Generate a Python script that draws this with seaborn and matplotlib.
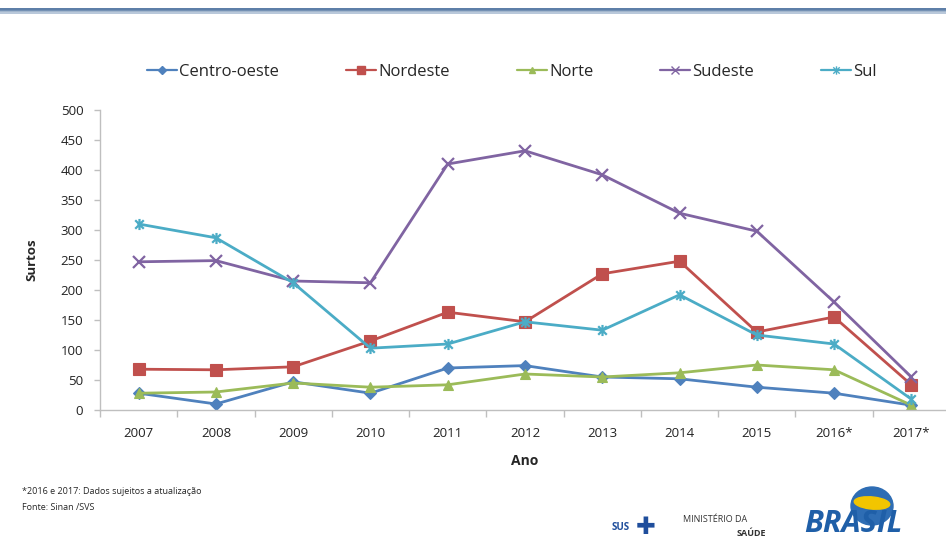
import numpy as np
import pandas as pd
import matplotlib
matplotlib.use("Agg")
import matplotlib.pyplot as plt
from matplotlib.path import Path
import seaborn as sns

anos = ["2007", "2008", "2009", "2010", "2011", "2012", "2013", "2014", "2015", "2016*", "2017*"]
regioes = ["Centro-oeste", "Nordeste", "Norte", "Sudeste", "Sul"]

centro_oeste = [28, 10, 47, 28, 70, 74, 55, 52, 38, 28, 8]
nordeste = [68, 67, 72, 115, 163, 147, 227, 248, 130, 155, 42]
norte = [28, 30, 45, 38, 42, 60, 55, 62, 75, 67, 8]
sudeste = [247, 249, 215, 212, 410, 432, 392, 328, 298, 180, 55]
sul = [310, 287, 212, 103, 110, 147, 133, 192, 125, 110, 18]

cores = {"Centro-oeste": "#4F81BD", "Nordeste": "#C0504D", "Norte": "#9BBB59",
         "Sudeste": "#8064A2", "Sul": "#4BACC6"}

# Excel-style "star": an X crossed by a vertical bar
star = Path([(-1, -1), (1, 1), (-1, 1), (1, -1), (0, -1.3), (0, 1.3)],
            [Path.MOVETO, Path.LINETO, Path.MOVETO, Path.LINETO, Path.MOVETO, Path.LINETO])
marcadores = {"Centro-oeste": "D", "Nordeste": "s", "Norte": "^", "Sudeste": "x", "Sul": star}
tamanhos = {"Centro-oeste": 6, "Nordeste": 8, "Norte": 7, "Sudeste": 8, "Sul": 8}

series = [centro_oeste, nordeste, norte, sudeste, sul]
df = pd.DataFrame({
    "pos": np.tile(np.arange(len(anos)), len(regioes)),
    "Surtos": np.concatenate(series),
    "Regiao": np.repeat(regioes, len(anos)),
})

sns.set_theme(style="white")
plt.rcParams["font.family"] = ["Open Sans", "DejaVu Sans"]

fig = plt.figure(figsize=(9.46, 5.41), dpi=100)
W, H = 946, 541
ax = fig.add_axes([100 / W, 1 - 410 / H, 850 / W, 300 / H])

for reg in regioes:
    sub = df[df["Regiao"] == reg]
    sns.lineplot(data=sub, x="pos", y="Surtos", ax=ax, color=cores[reg], lw=2,
                 marker=marcadores[reg], markersize=tamanhos[reg],
                 markeredgecolor=cores[reg], markeredgewidth=1.6 if reg in ("Sudeste", "Sul") else 0.8,
                 label=reg, legend=False)

ax.set_xlim(-0.5, len(anos) - 0.5)
ax.set_ylim(0, 500)
ax.set_yticks(np.arange(0, 501, 50))
ax.set_xticks(np.arange(len(anos)))
ax.set_xticklabels(anos)
ax.set_xticks(np.arange(len(anos) + 1) - 0.5, minor=True)
ax.tick_params(axis="x", which="major", length=0, pad=12, labelsize=9.5, colors="#222222")
ax.tick_params(axis="x", which="minor", length=5, width=1, color="#BFBFBF", direction="out", bottom=True)
ax.tick_params(axis="y", length=4, width=1, color="#BFBFBF", direction="out", left=True,
               labelsize=9.5, colors="#222222", pad=8)
for s in ["top", "right"]:
    ax.spines[s].set_visible(False)
for s in ["left", "bottom"]:
    ax.spines[s].set_color("#BFBFBF")
    ax.spines[s].set_linewidth(1)
ax.set_xlabel("Ano", fontsize=10, fontweight="bold", labelpad=10)
ax.set_ylabel("")
fig.text(32 / W, 1 - 260 / H, "Surtos", rotation=90, fontsize=9.5, fontweight="bold",
         ha="center", va="center")

# legend row
handles = [plt.Line2D([], [], color=cores[r], lw=1.6, marker=marcadores[r],
                      markersize=tamanhos[r] - 2, markeredgecolor=cores[r]) for r in regioes]
fig.legend(handles, regioes, loc="center", bbox_to_anchor=(512 / W, 1 - 72 / H), ncol=5,
           frameon=False, fontsize=12, handlelength=1.8, handletextpad=0.15, columnspacing=4.0)

# header rule
grad = np.linspace(0, 1, 256).reshape(1, -1)
hdr = fig.add_axes([0, 1 - 14 / H, 1, 6 / H])
hdr.imshow(np.vstack([grad * 0 + 0.0, grad * 0 + 1.0]), aspect="auto",
           cmap=matplotlib.colors.LinearSegmentedColormap.from_list("h", ["#5E7FA8", "#B9C8DA"]))
hdr.axis("off")

# footnotes
fig.text(22 / W, 1 - 492 / H, "*2016 e 2017: Dados sujeitos a atualização", fontsize=6.5, va="center")
fig.text(22 / W, 1 - 507 / H, "Fonte: Sinan /SVS", fontsize=6.5, va="center")

# institutional marks
fig.text(612 / W, 1 - 528 / H, "SUS", fontsize=7, fontweight="bold", color="#1F4E9C", va="center")
fig.text(636 / W, 1 - 527 / H, "✚", fontsize=17, color="#1F4E9C", va="center",
         family=["DejaVu Sans"])
fig.text(683 / W, 1 - 520 / H, "MINISTÉRIO DA", fontsize=6.5, color="#333333", va="center")
fig.text(766 / W, 1 - 534 / H, "SAÚDE", fontsize=6.5, fontweight="bold", color="#333333",
         va="center", ha="right")
fig.patches.append(matplotlib.patches.Ellipse((872 / W, 1 - 506 / H), 42 / W, 38 / H,
                                              transform=fig.transFigure, color="#2E6DB4", zorder=0))
fig.patches.append(matplotlib.patches.Ellipse((872 / W, 1 - 503 / H), 36 / W, 12 / H, angle=-12,
                                              transform=fig.transFigure, color="#F2C500", zorder=1))
fig.text(804 / W, 1 - 524 / H, "BRASIL", fontsize=22, fontweight="bold", fontstyle="italic",
         color="#1F5FA8", va="center", zorder=3)

fig.savefig("out.png", dpi=100)
